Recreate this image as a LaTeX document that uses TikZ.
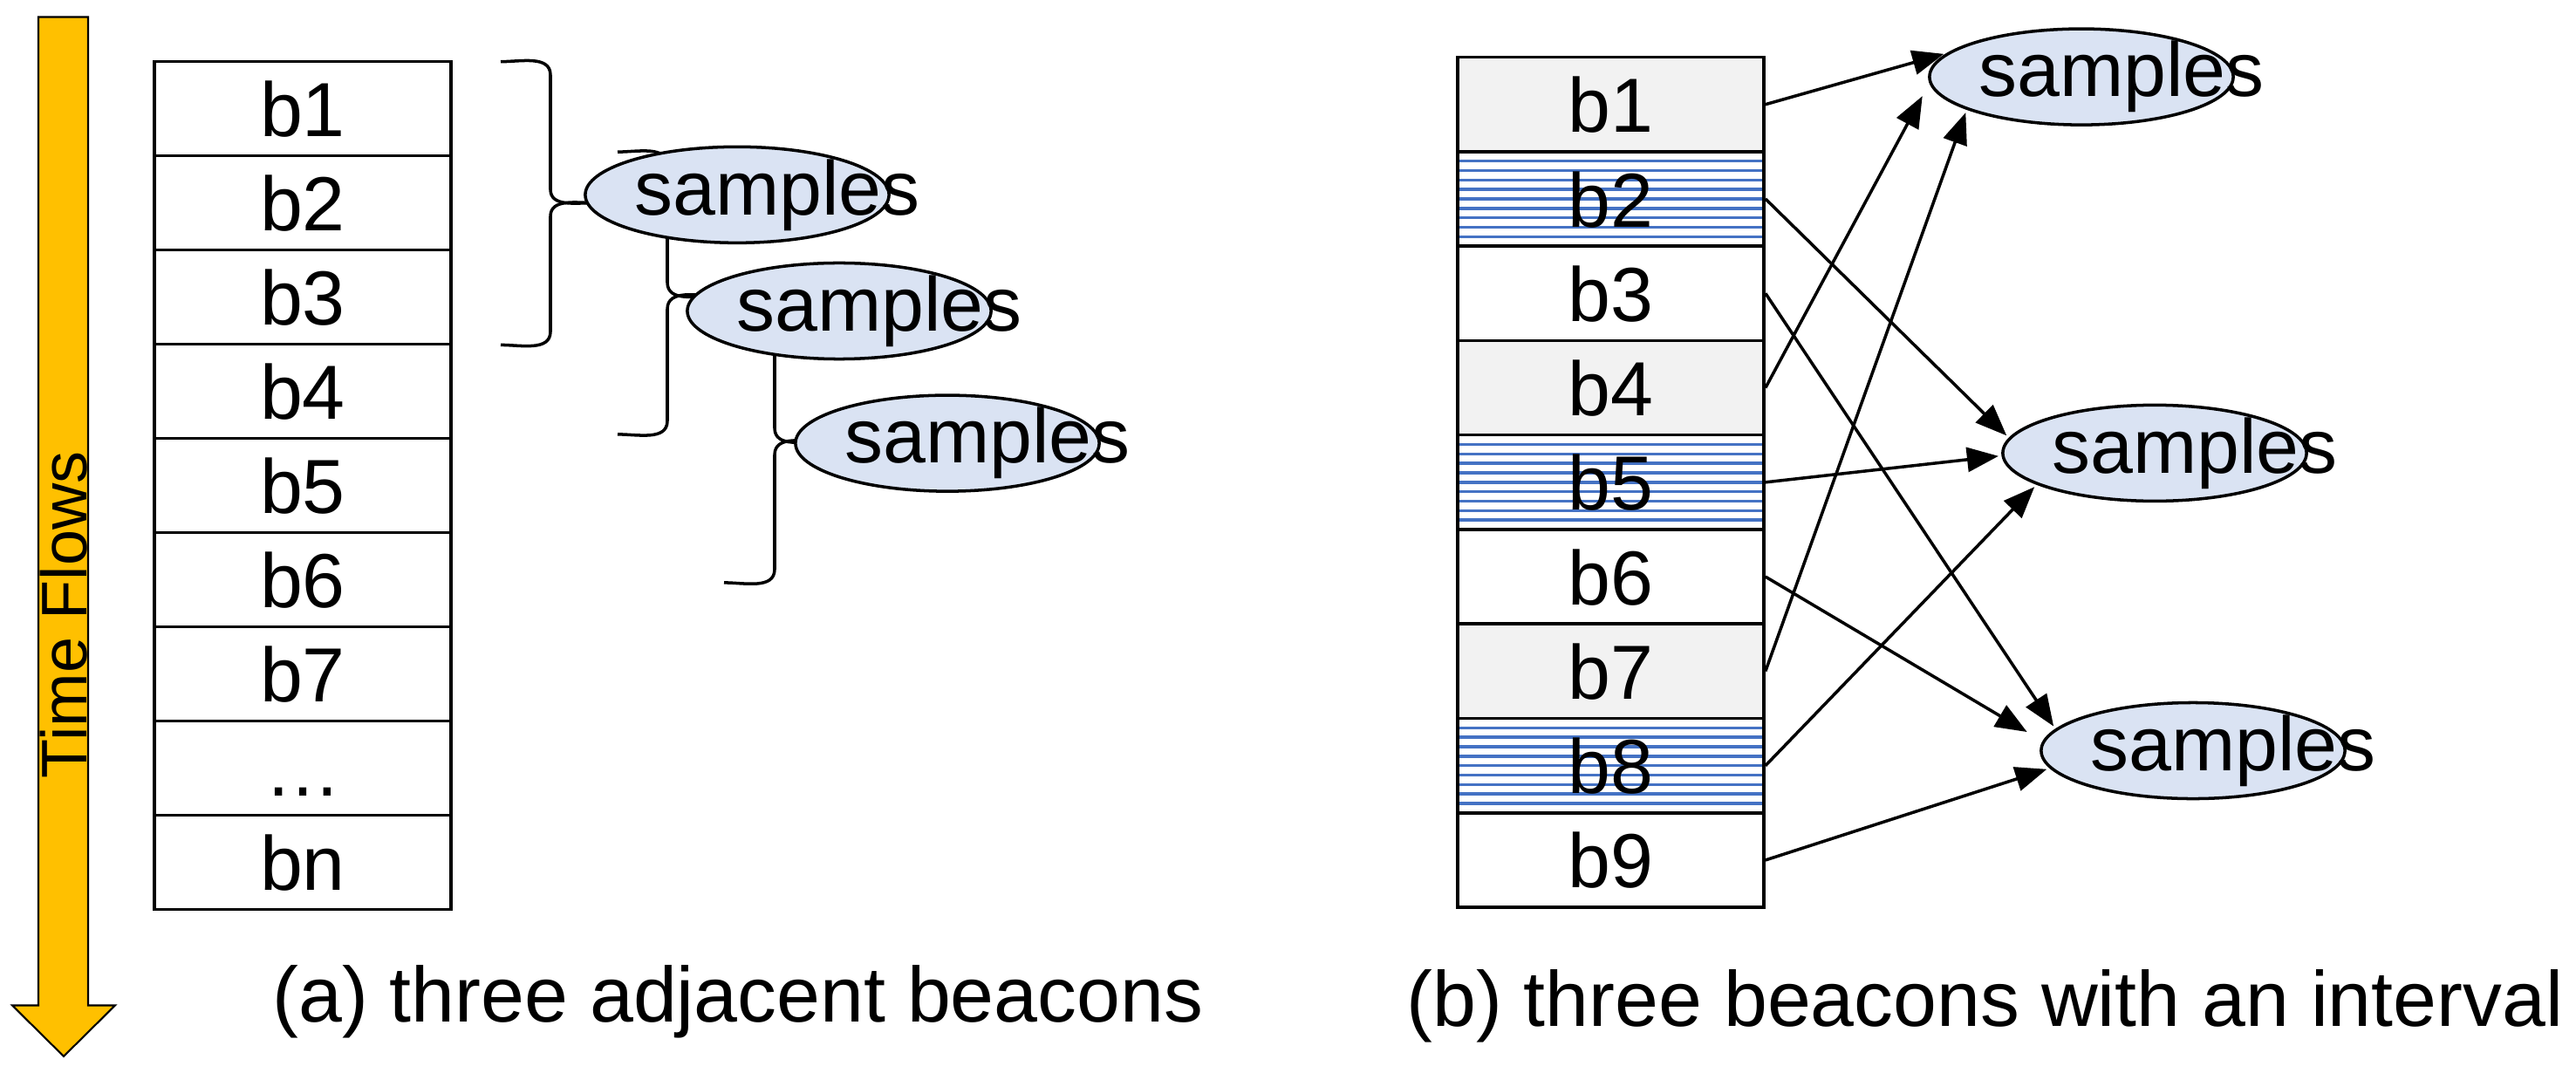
\documentclass[tikz,border=0pt]{standalone}
\usepackage{fontspec}
\setmainfont{Liberation Sans}
\usetikzlibrary{shapes.geometric,arrows.meta,calc}
\definecolor{flow}{HTML}{FFC000}
\definecolor{hatchblue}{HTML}{4472C4}
\definecolor{grayfill}{HTML}{F2F2F2}
\definecolor{ellfill}{HTML}{DAE3F3}
\tikzset{
  lbox/.style={draw,line width=1pt,rectangle,minimum width=3.40cm,minimum height=1.079cm,inner sep=0pt,
    font=\fontsize{25}{25}\selectfont,text height=0.64cm,text depth=0cm},
  rbox/.style={lbox,minimum width=3.51cm,minimum height=1.082cm},
  grayb/.style={fill=grayfill},
  plain/.style={},
  hatch/.style={path picture={\foreach \i in {1,...,9}{\draw[hatchblue,line width=1pt]
      ($(path picture bounding box.north west)!\i/10!(path picture bounding box.south west)$) --
      ($(path picture bounding box.north east)!\i/10!(path picture bounding box.south east)$);}}},
  samp/.style={draw,line width=1pt,fill=ellfill,ellipse,minimum width=3.48cm,minimum height=1.10cm,inner sep=0pt,
    label={[xshift=0.46cm,font=\fontsize{25}{25}\selectfont]center:samples}},
  brk/.style={line width=1pt},
  arr/.style={line width=1pt,-{Triangle[length=3.6mm,width=2.8mm]},shorten >=1pt},
  capt/.style={anchor=base west,font=\fontsize{25.5}{25.5}\selectfont}
}
\begin{document}
\begin{tikzpicture}[x=0.01cm,y=-0.01024cm]
\useasboundingbox (0,0) rectangle (2953,1200);
% time arrow
\draw[fill=flow,line width=0.6pt] (44,19) -- (101,19) -- (101,1125) -- (132,1125) -- (73,1182) -- (14,1125) -- (44,1125) -- cycle;
\node[rotate=90,font=\fontsize{21}{21}\selectfont] (tf) at (73,688) {Time Flows};
% left table
\foreach \t [count=\i] in {b1,b2,b3,b4,b5,b6,b7,{…},bn}{
  \node[lbox] (L\i) at (347,{69+52.7+105.4*(\i-1)}) {\t};
}
% brackets
\draw[brk] (574,69) to[out=0,in=90] (631,84) -- (631,212) to[out=-90,in=180] (681,227);
\draw[brk] (681,227) to[out=180,in=90] (631,242) -- (631,371) to[out=-90,in=0] (574,386);
\draw[brk] (708,170) to[out=0,in=90] (765,185) -- (765,316) to[out=-90,in=180] (823,331);
\draw[brk] (823,331) to[out=180,in=90] (765,346) -- (765,471) to[out=-90,in=0] (708,486);
\draw[brk] (830,329) to[out=0,in=90] (888,344) -- (888,479) to[out=-90,in=180] (945,494);
\draw[brk] (945,494) to[out=180,in=90] (888,509) -- (888,637) to[out=-90,in=0] (830,652);
% left ellipses
\node[samp] (s1) at (845,218) {};
\node[samp] (s2) at (962,348) {};
\node[samp] (s3) at (1086,496) {};
% right table
\foreach \i/\s in {1/grayb,2/hatch,3/plain,4/grayb,5/hatch,6/plain,7/grayb,8/hatch,9/plain}{
  \node[rbox,\s] (R\i) at (1846.5,{64+52.85+105.7*(\i-1)}) {b\i};
}
% right ellipses
\node[samp] (t1) at (2386,86) {};
\node[samp] (t2) at (2470,507) {};
\node[samp] (t3) at (2514,840) {};
% arrows
\draw[arr] (R1.east) -- (t1.170);
\draw[arr] (R4.east) -- ($(t1.center)!1.08!(t1.186)$);
\draw[arr] (R7.east) -- (t1.196);
\draw[arr] (R2.east) -- (t2.174);
\draw[arr] (R5.east) -- (t2.181);
\draw[arr] (R8.east) -- (t2.195);
\draw[arr] (R3.east) -- (t3.171);
\draw[arr] (R6.east) -- ($(t3.center)!1.12!(t3.174)$);
\draw[arr] (R9.east) -- (t3.187);
% captions
\node[capt] (ca) at (300,1144) {(a) three adjacent beacons};
\node[capt] (cb) at (1600,1148) {(b) three beacons with an interval};
\end{tikzpicture}
\end{document}
